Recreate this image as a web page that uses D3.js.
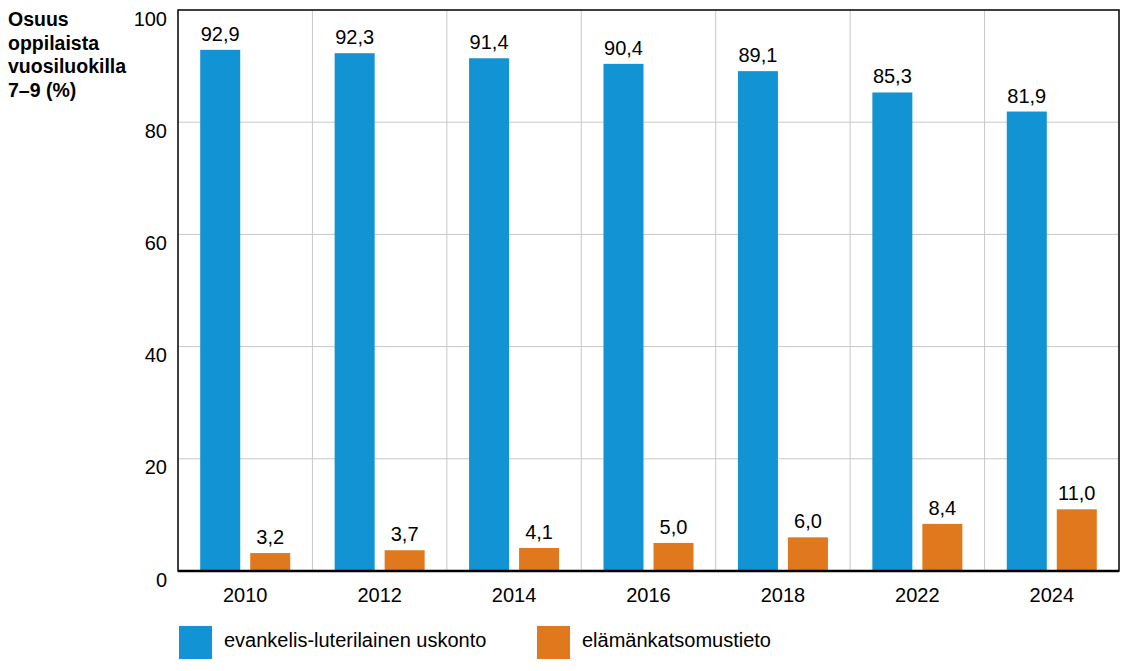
<!DOCTYPE html>
<html>
<head>
<meta charset="utf-8">
<script src="https://cdn.jsdelivr.net/npm/d3@7"></script>
<style>
  body { margin: 0; background: #fff; }
  text { font-family: "Liberation Sans", Arial, sans-serif; fill: #000; }
</style>
</head>
<body>
<svg id="chart" width="1130" height="671"></svg>
<script>
    // data
    var years = ["2010", "2012", "2014", "2016", "2018", "2022", "2024"];
    var lutheran = [92.9, 92.3, 91.4, 90.4, 89.1, 85.3, 81.9];
    var ethics = [3.2, 3.7, 4.1, 5.0, 6.0, 8.4, 11.0];
    var seriesNames = ["evankelis-luterilainen uskonto", "elämänkatsomustieto"];
    var seriesColors = ["#1193d4", "#e0791e"];
    var yTicks = [0, 20, 40, 60, 80, 100];
    var titleLines = ["Osuus", "oppilaista", "vuosiluokilla", "7–9 (%)"];

    var margin = { left: 178, right: 11, top: 10, bottom: 100 };
    var width = 1130, height = 671;
    var fontSize = '20px';

    var svg = d3.select('#chart');

    var x = d3.scaleBand()
        .domain(years)
        .range([margin.left, width - margin.right]);

    var y = d3.scaleLinear()
        .domain([0, 100])
        .range([height - margin.bottom, margin.top]);

    var series = d3.scaleBand()
        .domain([0, 1])
        .range([x.bandwidth() / 2 - 45, x.bandwidth() / 2 + 45])
        .paddingInner(0.2);

    // grid
    svg.append('g')
        .selectAll('line.h')
        .data(yTicks.slice(1, -1))
        .enter().append('line')
        .attr('x1', margin.left).attr('x2', width - margin.right)
        .attr('y1', function(d) { return y(d); })
        .attr('y2', function(d) { return y(d); })
        .attr('stroke', '#c8c8c8').attr('stroke-width', 1);

    svg.append('g')
        .selectAll('line.v')
        .data(years.slice(1))
        .enter().append('line')
        .attr('x1', function(d) { return x(d); })
        .attr('x2', function(d) { return x(d); })
        .attr('y1', y(100)).attr('y2', y(0))
        .attr('stroke', '#c8c8c8').attr('stroke-width', 1);

    // bars
    [lutheran, ethics].forEach(function(values, s) {
        var g = svg.append('g');
        g.selectAll('rect')
            .data(values)
            .enter().append('rect')
            .attr('x', function(d, i) { return x(years[i]) + series(s); })
            .attr('y', function(d) { return y(d); })
            .attr('width', series.bandwidth())
            .attr('height', function(d) { return y(0) - y(d); })
            .attr('fill', seriesColors[s]);

        g.selectAll('text')
            .data(values)
            .enter().append('text')
            .attr('x', function(d, i) { return x(years[i]) + series(s) + series.bandwidth() / 2; })
            .attr('y', function(d) { return y(d) - 9; })
            .attr('text-anchor', 'middle')
            .style('font-size', fontSize)
            .text(function(d) { return d.toFixed(1).replace('.', ','); });
    });

    // frame
    svg.append('rect')
        .attr('x', margin.left).attr('y', y(100))
        .attr('width', width - margin.right - margin.left)
        .attr('height', y(0) - y(100))
        .attr('fill', 'none').attr('stroke', '#000').attr('stroke-width', 1.5);

    svg.append('line')
        .attr('x1', margin.left).attr('x2', width - margin.right)
        .attr('y1', y(0)).attr('y2', y(0))
        .attr('stroke', '#000').attr('stroke-width', 2.5);

    // y tick labels (sit just below their value)
    svg.append('g')
        .selectAll('text')
        .data(yTicks)
        .enter().append('text')
        .attr('x', 167)
        .attr('y', function(d) { return y(d) + 15.5; })
        .attr('text-anchor', 'end')
        .style('font-size', fontSize)
        .text(function(d) { return d; });

    // x labels
    svg.append('g')
        .selectAll('text')
        .data(years)
        .enter().append('text')
        .attr('x', function(d) { return x(d) + x.bandwidth() / 2; })
        .attr('y', 602)
        .attr('text-anchor', 'middle')
        .style('font-size', fontSize)
        .text(function(d) { return d; });

    // title
    svg.append('text')
        .attr('x', 8).attr('y', 26)
        .style('font-size', '19.5px')
        .style('font-weight', 'bold')
        .selectAll('tspan')
        .data(titleLines)
        .enter().append('tspan')
        .attr('x', 8)
        .attr('dy', function(d, i) { return i === 0 ? 0 : 23.7; })
        .text(function(d) { return d; });

    // legend
    var legendX = [179, 537];
    var legend = svg.append('g')
        .selectAll('g')
        .data(seriesNames)
        .enter().append('g')
        .attr('transform', function(d, i) { return 'translate(' + legendX[i] + ',626)'; });

    legend.append('rect')
        .attr('width', 33).attr('height', 33)
        .attr('fill', function(d, i) { return seriesColors[i]; });

    legend.append('text')
        .attr('x', 45).attr('y', 21)
        .style('font-size', fontSize)
        .text(function(d) { return d; });
</script>
</body>
</html>
